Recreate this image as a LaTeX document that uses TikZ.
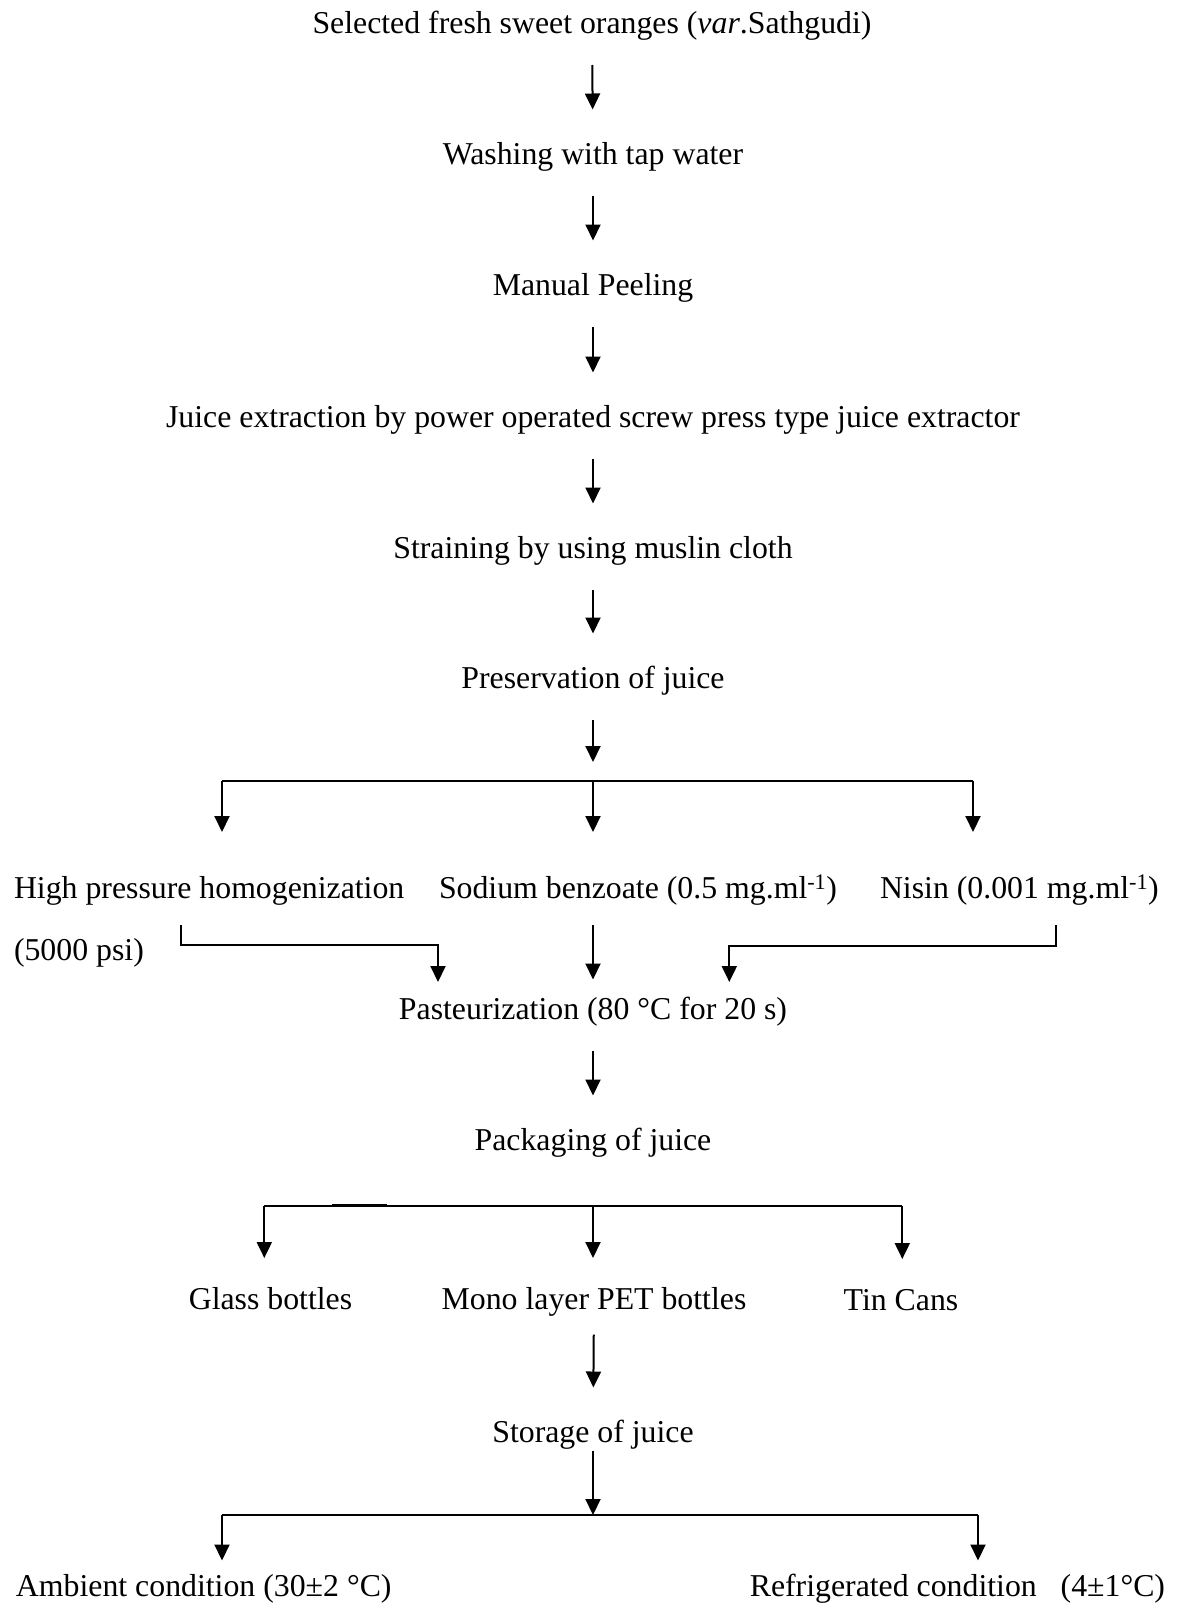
\documentclass[tikz,border=0pt]{standalone}
\usepackage{fontspec}
\setmainfont{Liberation Serif}
\usetikzlibrary{arrows.meta}

\begin{document}
\begin{tikzpicture}[x=1pt,y=-1pt,>={Triangle[length=16pt,width=15pt]},line width=2pt,
    lbl/.style={inner sep=0pt,text height=22pt,text depth=7pt,font=\fontsize{31.8}{38}\selectfont},
    flow/.style={->,shorten <=23.5pt,shorten >=32pt}]
  \useasboundingbox (0,0) rectangle (1176,1609);
  % main steps
  \node[lbl] (top) at (592,26) {Selected fresh sweet oranges (\textit{var}.Sathgudi)};
  \node[lbl] (wash) at (593,157) {Washing with tap water};
  \node[lbl] (peel) at (593,288) {Manual Peeling};
  \node[lbl] (juice) at (593,420) {Juice extraction by power operated screw press type juice extractor};
  \node[lbl] (strain) at (593,551) {Straining by using muslin cloth};
  \node[lbl] (pres) at (593,681) {Preservation of juice};
  \draw[flow] (top) -- (wash);
  \draw[flow] (wash) -- (peel);
  \draw[flow] (peel) -- (juice);
  \draw[flow] (juice) -- (strain);
  \draw[flow] (strain) -- (pres);
  \coordinate (presEnd) at (593,762);
  \draw[->,shorten <=23.5pt] (pres) -- (presEnd);
  % preservation methods
  \node[lbl,anchor=west] (hph) at (13,891) {High pressure homogenization};
  \node[lbl,anchor=west] (psi) at (13,953) {(5000 psi)};
  \node[lbl,anchor=west] (sod) at (438,891) {Sodium benzoate (0.5 mg.ml\textsuperscript{-1})};
  \node[lbl,anchor=west] (nis) at (879,891) {Nisin (0.001 mg.ml\textsuperscript{-1})};
  \coordinate (b1L) at (222,781);
  \coordinate (b1) at (593,781);
  \coordinate (b1R) at (973,781);
  \draw (b1L) -- (b1R);
  \foreach \c/\n in {b1L/hph,b1/sod,b1R/nis}
    \draw[->,shorten >=43.5pt] (\c) -- (\c |- \n.north);
  \node[lbl] (past) at (593,1012) {Pasteurization (80 °C for 20 s)};
  \coordinate (hk) at (180.7,945);
  \coordinate (hin) at (438,945);
  \coordinate (nk) at (1055.7,945.7);
  \coordinate (nin) at (729.3,945.7);
  \draw[->,shorten <=18.5pt,shorten >=14.5pt] (hph.south -| hk) -- (hk) -- (hin) -- (hin |- past.north);
  \draw[->,shorten <=18.5pt,shorten >=17pt] (sod.south -| past.north) -- (past.north);
  \draw[->,shorten <=18.5pt,shorten >=14.5pt] (nis.south -| nk) -- (nk) -- (nin) -- (nin |- past.north);
  % packaging
  \node[lbl] (pack) at (593,1143) {Packaging of juice};
  \draw[flow] (past) -- (pack);
  \node[lbl] (glass) at (270.5,1302) {Glass bottles};
  \node[lbl] (pet) at (594,1302) {Mono layer PET bottles};
  \node[lbl] (tin) at (901,1303) {Tin Cans};
  \coordinate (b2L) at (264.3,1205.7);
  \coordinate (b2) at (593,1205.7);
  \coordinate (b2R) at (902.3,1205.7);
  \draw (b2L) -- (b2R);
  \draw[line width=3pt] (331.7,1205.7) -- (386.7,1205.7);
  \foreach \c/\n in {b2L/glass,b2/pet,b2R/tin}
    \draw[->,shorten >=28.5pt] (\c) -- (\c |- \n.north);
  % storage
  \node[lbl] (stor) at (593,1435) {Storage of juice};
  \draw[flow,shorten <=17pt] (pet) -- (stor);
  \coordinate (b3L) at (222,1515);
  \coordinate (b3) at (593,1515);
  \coordinate (b3R) at (978,1515);
  \draw[->] (stor) -- (b3);
  \draw (b3L) -- (b3R);
  \node[lbl,anchor=west] (amb) at (15,1589) {Ambient condition (30±2 °C)};
  \node[lbl,anchor=east] (refr) at (1166,1589) {Refrigerated condition\ \ \ (4±1°C)};
  \foreach \c/\n in {b3L/amb,b3R/refr}
    \draw[->,shorten >=13pt] (\c) -- (\c |- \n.north);
\end{tikzpicture}
\end{document}
